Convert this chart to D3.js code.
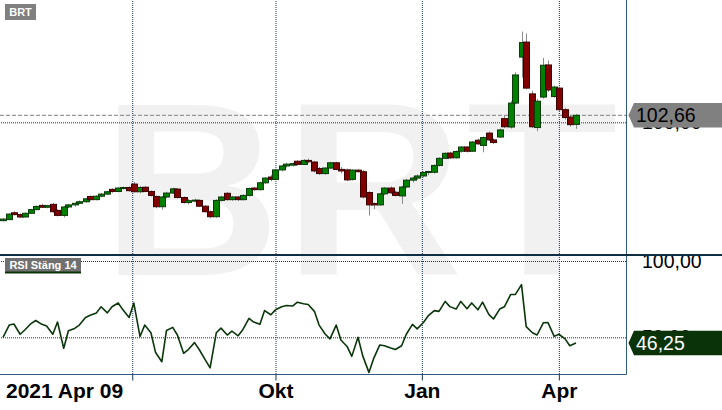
<!DOCTYPE html>
<html lang="sv">
    <head>
        <meta charset="UTF-8">
        <title>BRT</title>
        <script src="https://d3js.org/d3.v7.min.js"></script>
        <style>
            body { margin: 0; background: #fff; }
            svg { display: block; font-family: "Liberation Sans", Arial, sans-serif; }
        </style>
    </head>
    <body>
        <script>
            // candles: Fridays and Tuesdays from 2021-04-09 to 2022-04-12
            const firstDay = new Date(2021, 3, 9);
            const lastDay = new Date(2022, 3, 12);

            const open = [62.6, 63.0, 65.6, 64.9, 64.0, 65.4, 66.8, 68.4, 67.7, 68.8,
                          66.5, 64.6, 67.8, 68.6, 69.2, 69.8, 71.8, 70.6, 71.9, 72.7,
                          74.5, 73.7, 75.0, 75.2, 76.5, 73.6, 75.3, 73.7, 71.8, 67.9,
                          71.6, 73.1, 74.6, 71.4, 69.5, 70.2, 70.3, 68.1, 66.0, 64.1,
                          70.3, 73.0, 70.6, 71.6, 70.6, 72.2, 75.0, 74.4, 77.0, 79.2,
                          78.3, 81.9, 83.4, 83.7, 85.2, 84.0, 85.5, 84.9, 82.4, 80.5,
                          82.6, 84.6, 82.1, 81.9, 78.3, 81.8, 81.2, 73.3, 69.1, 68.6,
                          72.8, 75.0, 73.4, 72.0, 75.4, 78.0, 78.8, 79.6, 80.9, 81.0,
                          83.6, 86.3, 88.3, 86.5, 89.0, 90.6, 89.0, 93.2, 91.2, 95.9,
                          93.3, 94.4, 101.4, 98.2, 107.3, 124.8, 130.5, 110.8, 98.0, 109.6,
                          121.8, 109.8, 113.0, 104.8, 102.0, 99.2];
            const high = [63.5, 65.5, 66.2, 65.3, 65.8, 67.1, 68.4, 69.0, 68.6, 69.4,
                          67.0, 68.2, 69.0, 69.5, 70.3, 71.2, 72.2, 72.3, 73.1, 74.0,
                          74.9, 75.3, 75.6, 75.7, 77.3, 75.8, 75.8, 74.1, 72.2, 71.9,
                          73.6, 75.2, 75.0, 71.8, 70.8, 70.9, 70.7, 68.6, 66.5, 70.7,
                          72.0, 73.5, 72.0, 72.0, 72.6, 75.2, 75.5, 77.4, 79.2, 80.0,
                          82.3, 83.8, 84.5, 84.7, 85.5, 86.0, 86.2, 85.3, 83.0, 82.9,
                          85.0, 85.0, 83.0, 82.4, 82.2, 82.3, 81.8, 73.8, 69.5, 73.2,
                          75.4, 75.6, 74.0, 75.8, 78.5, 79.4, 80.2, 81.4, 81.6, 84.0,
                          86.7, 88.6, 88.8, 89.3, 91.0, 91.0, 92.9, 93.8, 94.6, 96.5,
                          93.9, 97.6, 102.6, 108.1, 119.0, 134.5, 133.8, 112.0, 108.8, 124.5,
                          123.5, 114.0, 113.6, 105.5, 102.8, 103.2];
            const low = [62.3, 62.8, 64.6, 63.6, 63.8, 65.2, 66.5, 67.4, 67.3, 65.6,
                         64.2, 63.8, 67.4, 68.0, 68.9, 69.4, 70.2, 70.3, 71.5, 72.3,
                         73.2, 73.4, 74.4, 73.6, 73.3, 73.0, 73.4, 71.8, 67.3, 66.8,
                         71.2, 72.8, 71.0, 69.1, 68.8, 69.6, 67.8, 65.7, 63.5, 63.7,
                         69.9, 70.2, 70.1, 70.0, 70.2, 71.8, 73.9, 74.0, 76.5, 77.6,
                         78.0, 81.3, 82.8, 83.2, 83.6, 83.7, 84.6, 80.9, 80.0, 80.0,
                         82.3, 81.8, 80.5, 77.6, 77.8, 81.0, 71.0, 64.5, 67.0, 68.2,
                         72.3, 72.8, 71.8, 69.0, 75.0, 77.1, 78.2, 79.0, 79.9, 80.5,
                         83.2, 86.0, 86.0, 86.2, 88.4, 88.5, 88.8, 91.4, 88.6, 92.9,
                         91.7, 94.0, 97.8, 97.6, 106.8, 117.0, 112.5, 97.8, 96.6, 109.0,
                         111.5, 109.3, 104.2, 101.0, 98.3, 97.5];
            const close = [63.2, 65.1, 64.9, 64.0, 65.4, 66.8, 68.0, 67.7, 68.3, 66.0,
                           64.6, 67.8, 68.6, 69.2, 69.8, 70.9, 70.6, 71.9, 72.7, 73.6,
                           73.7, 75.0, 75.2, 74.0, 73.6, 75.2, 73.7, 72.2, 67.9, 71.6,
                           73.1, 74.7, 71.4, 69.5, 70.2, 70.4, 68.1, 66.0, 64.1, 70.3,
                           71.6, 70.6, 71.6, 70.6, 72.2, 74.8, 74.4, 77.0, 78.8, 78.3,
                           81.9, 83.4, 84.1, 84.3, 84.0, 85.5, 85.0, 81.5, 80.5, 82.6,
                           84.6, 82.1, 81.5, 78.1, 81.8, 81.2, 71.6, 68.6, 68.6, 72.8,
                           75.0, 73.2, 72.2, 75.4, 78.0, 78.8, 79.6, 80.9, 81.3, 83.6,
                           86.3, 88.2, 86.5, 88.9, 90.6, 89.0, 92.5, 91.8, 94.2, 93.3,
                           92.3, 97.1, 98.3, 107.3, 118.0, 130.3, 113.0, 98.3, 108.0, 121.7,
                           112.3, 113.4, 104.8, 101.8, 99.1, 102.66];
            const rsi = [50, 58, 58.7, 52, 54.8, 59, 61, 58.5, 57.4, 52,
                         60, 42.8, 54.3, 55.8, 58, 63, 64.5, 66, 70, 66,
                         70, 72.5, 68, 63, 72.5, 50.5, 58, 53, 40, 34,
                         54.5, 56.5, 51.5, 39.5, 42, 46.5, 42, 35, 30, 53,
                         56, 51.5, 54, 51, 55, 62.4, 60, 58.5, 67.5, 64.8,
                         68, 70, 70.8, 70.5, 73, 72, 71.5, 67, 58, 52,
                         49, 58, 48.2, 44, 37.5, 50, 38, 27, 36, 45,
                         44.5, 43, 42, 44.5, 52, 58.5, 55.5, 59.7, 64, 67.5,
                         67, 73.5, 70.1, 68.5, 73.5, 68.7, 72.5, 68, 73, 65,
                         62, 68.5, 70, 78, 78, 84.5, 57, 53, 51.5, 59.5,
                         59.6, 50.6, 52, 49, 44.5, 46.25];

            const xTickDates = [new Date(2021, 6, 1), new Date(2021, 9, 1), new Date(2022, 0, 3), new Date(2022, 3, 1)];
            const xTickLabels = ['', 'Okt', 'Jan', 'Apr'];
            const startLabel = '2021 Apr 09';
            const priceTicks = [100];
            const rsiTicks = [100, 50];
            const title = 'BRT';
            const rsiTitle = 'RSI Stäng 14';

            const w = 722;
            const h = 410;
            const plotR = 626;
            const sepY = 255;
            const bottomY = 374;

            const dates = d3.merge([d3.timeFriday.range(firstDay, d3.timeDay.offset(lastDay, 1)),
                                    d3.timeTuesday.range(firstDay, d3.timeDay.offset(lastDay, 1))])
                            .sort(d3.ascending);
            const candles = dates.map((d, i) => ({ date: d, o: open[i], h: high[i], l: low[i], c: close[i] }));
            const fmt = v => d3.format('.2f')(v).replace('.', ',');

            const svg = d3.select('body')
                          .append('svg')
                          .attr('width', w)
                          .attr('height', h);

            svg.append('rect')
               .attr('width', w)
               .attr('height', h)
               .attr('fill', '#fff');

            // watermark
            svg.append('text')
               .attr('x', 102)
               .attr('y', 275)
               .attr('font-size', 247)
               .attr('font-weight', 'bold')
               .attr('letter-spacing', 4)
               .attr('fill', '#f1f1f1')
               .text(title);

            const x = d3.scaleTime()
                        .domain([firstDay, lastDay])
                        .range([3, 576]);
            const yP = d3.scaleLinear()
                         .domain([100, 50])
                         .range([122.3, 253.8]);
            const yR = d3.scaleLinear()
                         .domain([50, 100])
                         .range([337.3, 261]);

            //vertical grid
            svg.append('g')
               .attr('transform', 'translate(0,' + bottomY + ')')
               .call(d3.axisBottom(x).tickValues(xTickDates).tickSize(-bottomY).tickFormat(''))
               .call(g => g.select('.domain').remove())
               .call(g => g.selectAll('line').attr('stroke', '#163654').attr('stroke-dasharray', '1,1'));

            //price axis
            svg.append('g')
               .attr('transform', 'translate(' + plotR + ',0)')
               .call(d3.axisRight(yP).tickValues(priceTicks).tickSize(-plotR).tickPadding(16).tickFormat(fmt))
               .call(g => g.select('.domain').remove())
               .call(g => g.selectAll('line').attr('stroke', '#163654').attr('stroke-dasharray', '1,1'))
               .call(g => g.selectAll('text').attr('font-size', 19.5).attr('fill', '#000').attr('font-family', null));

            //rsi axis
            svg.append('g')
               .attr('transform', 'translate(' + plotR + ',0)')
               .call(d3.axisRight(yR).tickValues(rsiTicks).tickSize(-plotR).tickPadding(16).tickFormat(fmt))
               .call(g => g.select('.domain').remove())
               .call(g => g.selectAll('line').attr('stroke', '#163654').attr('stroke-dasharray', '1,1'))
               .call(g => g.selectAll('text').attr('font-size', 19.5).attr('fill', '#000').attr('font-family', null));

            // last price line
            const lastClose = close[close.length - 1];
            svg.append('line')
               .attr('x1', 0)
               .attr('x2', plotR)
               .attr('y1', yP(lastClose))
               .attr('y2', yP(lastClose))
               .attr('stroke', '#808080')
               .attr('stroke-dasharray', '4,2');

            //candles
            const candle = svg.append('g')
                              .selectAll('g')
                              .data(candles)
                              .enter()
                              .append('g');
            candle.append('line')
                  .attr('x1', d => Math.round(x(d.date)) + 0.5)
                  .attr('x2', d => Math.round(x(d.date)) + 0.5)
                  .attr('y1', d => yP(d.h))
                  .attr('y2', d => yP(d.l))
                  .attr('stroke', '#8a8a8a');
            candle.append('rect')
                  .attr('x', d => Math.round(x(d.date)) - 2.5)
                  .attr('y', d => yP(Math.max(d.o, d.c)))
                  .attr('width', 6)
                  .attr('height', d => Math.max(1, Math.abs(yP(d.o) - yP(d.c))))
                  .attr('fill', d => d.c >= d.o ? '#008000' : '#800000')
                  .attr('stroke', d => d.c >= d.o ? '#0b3a0b' : '#3c0000')
                  .attr('stroke-width', 1);

            //rsi line
            svg.append('path')
               .datum(rsi)
               .attr('fill', 'none')
               .attr('stroke', '#0b360b')
               .attr('stroke-width', 1.6)
               .attr('stroke-linejoin', 'round')
               .attr('d', d3.line().x((d, i) => x(dates[i])).y(d => yR(d)));

            // frame
            svg.append('path')
               .attr('d', 'M' + (plotR + 0.5) + ',0V' + (bottomY + 0.5) + 'H0')
               .attr('fill', 'none')
               .attr('stroke', '#2f5b86');
            svg.append('line')
               .attr('x1', 0)
               .attr('x2', w)
               .attr('y1', sepY)
               .attr('y2', sepY)
               .attr('stroke', '#0f2e44')
               .attr('stroke-width', 2.2);

            //xAxis
            const xAxis = svg.append('g')
                             .attr('transform', 'translate(0,' + (bottomY + 0.5) + ')')
                             .call(d3.axisBottom(x).tickValues(xTickDates).tickSize(6)
                                     .tickFormat((d, i) => xTickLabels[i]));
            xAxis.select('.domain').remove();
            xAxis.selectAll('line').attr('stroke', '#163654');
            xAxis.selectAll('text')
                 .attr('y', 23.5)
                 .attr('dy', 0)
                 .attr('font-size', 21)
                 .attr('font-weight', 'bold')
                 .attr('font-family', null)
                 .attr('fill', '#000');
            svg.append('text')
               .attr('x', 6)
               .attr('y', 398)
               .attr('font-size', 21)
               .attr('font-weight', 'bold')
               .text(startLabel);

            // value tags
            function tag(y, fill, color, label) {
                svg.append('path')
                   .attr('d', 'M628.5,' + y + 'L634,' + (y - 12.3) + 'H722V' + (y + 12.3) + 'H634Z')
                   .attr('fill', fill);
                svg.append('text')
                   .attr('x', 636)
                   .attr('y', y + 7)
                   .attr('font-size', 19.5)
                   .attr('fill', color)
                   .text(label);
            }
            tag(yP(lastClose), '#808080', '#000', fmt(lastClose));
            tag(yR(rsi[rsi.length - 1]), '#0a330a', '#fff', fmt(rsi[rsi.length - 1]));

            // panel titles
            svg.append('rect')
               .attr('x', 5).attr('y', 4)
               .attr('width', 31).attr('height', 16)
               .attr('fill', '#808080');
            svg.append('text')
               .attr('x', 20.5).attr('y', 16)
               .attr('text-anchor', 'middle')
               .attr('font-size', 11).attr('font-weight', 'bold')
               .attr('fill', '#fff')
               .text(title);
            svg.append('rect')
               .attr('x', 5).attr('y', 258)
               .attr('width', 76).attr('height', 15)
               .attr('fill', '#707070');
            svg.append('rect')
               .attr('x', 5).attr('y', 271.5)
               .attr('width', 76).attr('height', 2)
               .attr('fill', '#0a330a');
            svg.append('text')
               .attr('x', 43).attr('y', 269)
               .attr('text-anchor', 'middle')
               .attr('font-size', 11).attr('font-weight', 'bold')
               .attr('fill', '#fff')
               .text(rsiTitle);
        </script>
    </body>
</html>
